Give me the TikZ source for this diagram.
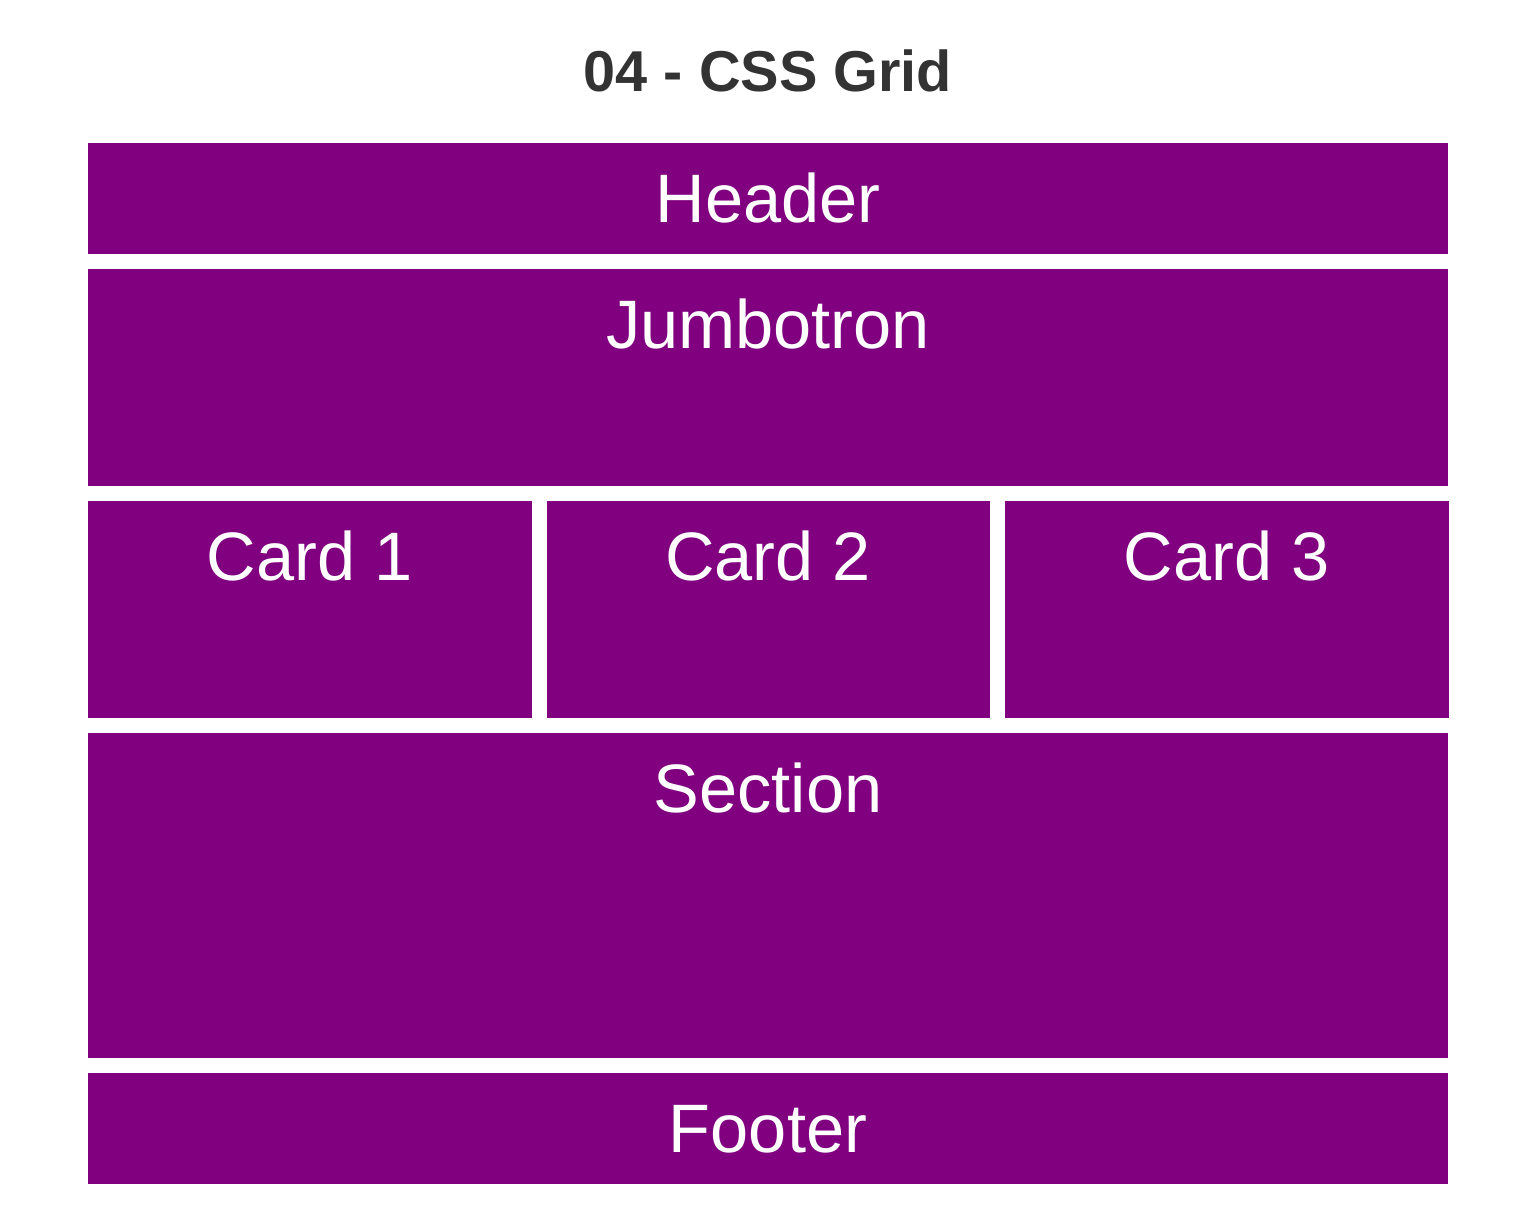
\documentclass[tikz,border=0pt]{standalone}
\usepackage{fontspec}
\setmainfont{Liberation Sans}
\usetikzlibrary{positioning}
\definecolor{gridpurple}{RGB}{128,0,128}
\definecolor{coldark}{RGB}{51,51,51}

\begin{document}
\begin{tikzpicture}[
  area/.style={rectangle, fill=gridpurple, inner sep=0pt, outer sep=0pt},
  wide/.style={area, minimum width=13.60cm},
  card/.style={area, minimum width=4.435cm, minimum height=2.17cm},
  lbl/.style={text=white, inner sep=0pt, anchor=base,
               font=\fontsize{19.5}{23}\selectfont},
  title/.style={text=coldark, inner sep=0pt, anchor=base,
                font=\fontsize{16.4}{20}\selectfont\bfseries},
  node distance=0.15cm and 0.15cm
]
\useasboundingbox (0,0) rectangle (15.36,-12.30);

% Title
\node[title] (title) at (7.68,-0.917) {04 - CSS Grid};

% Full-width rows
\node[wide, minimum height=1.11cm, anchor=north west] (header) at (0.88,-1.43) {};
\node[wide, minimum height=2.17cm, below=of header] (jumbo) {};

% Cards
\node[card, below right=0.15cm and 0cm of jumbo.south west] (card1) {};
\node[card, right=of card1] (card2) {};
\node[card, right=of card2] (card3) {};

% Section and footer
\node[wide, minimum height=3.25cm,
      below right=0.15cm and 0cm of card1.south west] (section) {};
\node[wide, minimum height=1.11cm, below=of section] (footer) {};

% Labels
\node[lbl] (headerlbl)  at ([yshift=-0.797cm]header.north)  {Header};
\node[lbl] (jumbolbl)   at ([yshift=-0.797cm]jumbo.north)   {Jumbotron};
\node[lbl] (card1lbl)   at ([yshift=-0.797cm]card1.north)   {Card 1};
\node[lbl] (card2lbl)   at ([yshift=-0.797cm]card2.north)   {Card 2};
\node[lbl] (card3lbl)   at ([yshift=-0.797cm]card3.north)   {Card 3};
\node[lbl] (sectionlbl) at ([yshift=-0.797cm]section.north) {Section};
\node[lbl] (footerlbl)  at ([yshift=-0.797cm]footer.north)  {Footer};
\end{tikzpicture}
\end{document}
